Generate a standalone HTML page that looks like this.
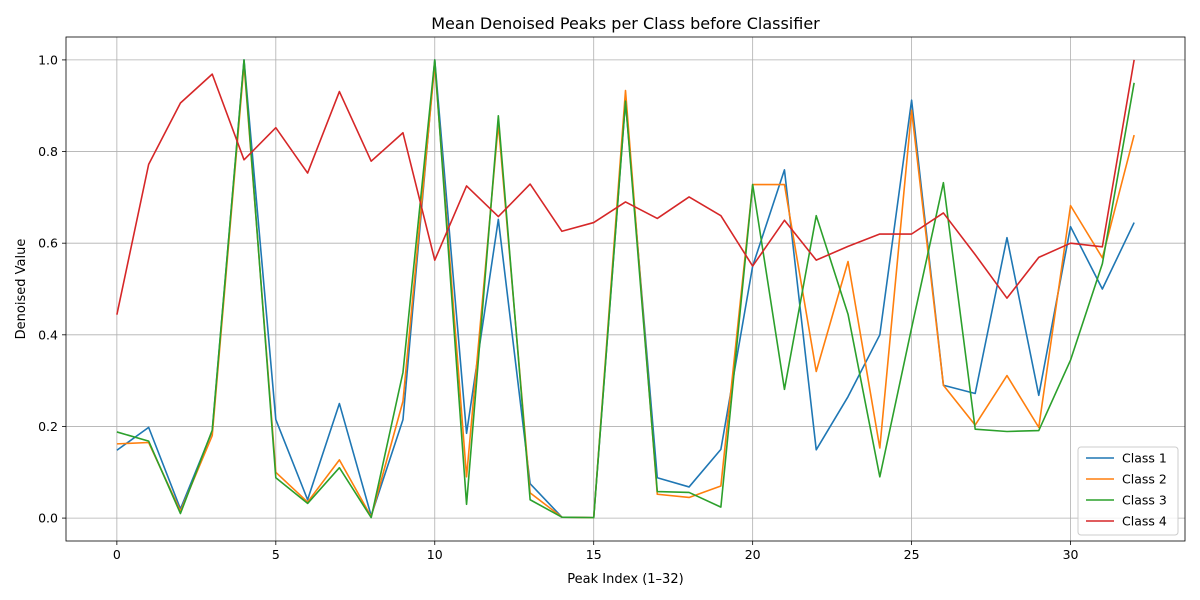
<!DOCTYPE html>
<html><head><meta charset="utf-8"><style>
html,body{margin:0;padding:0;background:#fff;}
svg{display:block;font-family:"DejaVu Sans","Liberation Sans",sans-serif;}
</style></head><body>
<svg id="chart" width="1200" height="600" viewBox="0 0 1200 600" xmlns="http://www.w3.org/2000/svg">
<rect x="0" y="0" width="1200" height="600" fill="#fff"/>
<text x="625.5" y="29" text-anchor="middle" font-size="16" fill="#000">Mean Denoised Peaks per Class before Classifier</text>
<g id="grid"></g>
<g id="series"></g>
<rect x="66" y="37" width="1119" height="504" fill="none" stroke="#000" stroke-width="0.8"/>
<g id="ticks"></g>
<text x="625.5" y="583" text-anchor="middle" font-size="13">Peak Index (1–32)</text>
<text x="25" y="289" text-anchor="middle" font-size="13" transform="rotate(-90 25 289)">Denoised Value</text>
<g id="legend"></g>
</svg>
<script>
const seriesNames = ["Class 1","Class 2","Class 3","Class 4"];
const colors = ["#1f77b4","#ff7f0e","#2ca02c","#d62728"];
const class1 = [0.148,0.198,0.02,0.19,1.0,0.215,0.04,0.25,0.005,0.215,1.0,0.185,0.652,0.075,0.002,0.001,0.91,0.088,0.068,0.15,0.55,0.76,0.149,0.265,0.40,0.912,0.29,0.272,0.612,0.268,0.636,0.50,0.645];
const class2 = [0.162,0.165,0.015,0.18,0.99,0.10,0.035,0.127,0.003,0.255,0.99,0.09,0.86,0.055,0.002,0.001,0.933,0.052,0.045,0.07,0.728,0.728,0.32,0.56,0.153,0.89,0.29,0.203,0.311,0.198,0.682,0.568,0.836];
const class3 = [0.188,0.168,0.01,0.192,1.0,0.088,0.032,0.11,0.001,0.318,1.0,0.03,0.878,0.04,0.002,0.001,0.91,0.058,0.056,0.024,0.728,0.281,0.66,0.445,0.09,0.415,0.732,0.194,0.189,0.191,0.345,0.555,0.95];
const class4 = [0.444,0.772,0.906,0.969,0.782,0.852,0.753,0.931,0.779,0.841,0.563,0.725,0.658,0.729,0.626,0.645,0.69,0.654,0.701,0.66,0.55,0.65,0.563,0.593,0.62,0.62,0.666,0.575,0.48,0.569,0.6,0.592,1.0];
const xTicks = [0,5,10,15,20,25,30];
const yTicks = [0.0,0.2,0.4,0.6,0.8,1.0];

const NS="http://www.w3.org/2000/svg";
const L=66,R=1185,T=37,B=541;
const xMin=-1.6,xMax=33.6,yMin=-0.05,yMax=1.05;
function xs(v){return L+(v-xMin)/(xMax-xMin)*(R-L);}
function ys(v){return B-(v-yMin)/(yMax-yMin)*(B-T);}
function mk(tag,attrs,parent){const e=document.createElementNS(NS,tag);for(const k in attrs)e.setAttribute(k,attrs[k]);parent.appendChild(e);return e;}
const grid=document.getElementById('grid'),ticks=document.getElementById('ticks'),ser=document.getElementById('series'),leg=document.getElementById('legend');
xTicks.forEach(t=>{const x=xs(t);
 const g=mk('line',{x1:x,x2:x,y1:T,y2:B,stroke:'#b0b0b0','stroke-width':0.8},grid);
 
 
 const tk=mk('line',{x1:x,x2:x,y1:B,y2:B+4,stroke:'#000','stroke-width':0.8},ticks);
 
 
 const tx=mk('text',{x:x,y:B+18,'text-anchor':'middle','font-size':12.5},ticks);tx.textContent=String(t);
 
 
});
yTicks.forEach(t=>{const y=ys(t);
 const g=mk('line',{x1:L,x2:R,y1:y,y2:y,stroke:'#b0b0b0','stroke-width':0.8},grid);
 
 
 const tk=mk('line',{x1:L-4,x2:L,y1:y,y2:y,stroke:'#000','stroke-width':0.8},ticks);
 
 
 const tx=mk('text',{x:L-8,y:y+4.5,'text-anchor':'end','font-size':12.5},ticks);tx.textContent=t.toFixed(1);
 
 
});
[class1,class2,class3,class4].forEach((d,i)=>{
 const p=mk('polyline',{points:d.map((v,j)=>xs(j)+','+ys(v)).join(' '),fill:'none',stroke:colors[i],'stroke-width':1.6,'stroke-linejoin':'round'},ser);
 
 
});
const lb=mk('rect',{x:1078,y:447,width:100,height:88,rx:3,fill:'#fff','fill-opacity':0.8,stroke:'#ccc'},leg);


seriesNames.forEach((n,i)=>{const y=458+i*21;
 const ln=mk('line',{x1:1086,x2:1114,y1:y,y2:y,stroke:colors[i],'stroke-width':1.6},leg);
 
 
 const tx=mk('text',{x:1122,y:y+4.5,'font-size':12.5},leg);tx.textContent=n;
 
 
});
</script>
</body></html>
